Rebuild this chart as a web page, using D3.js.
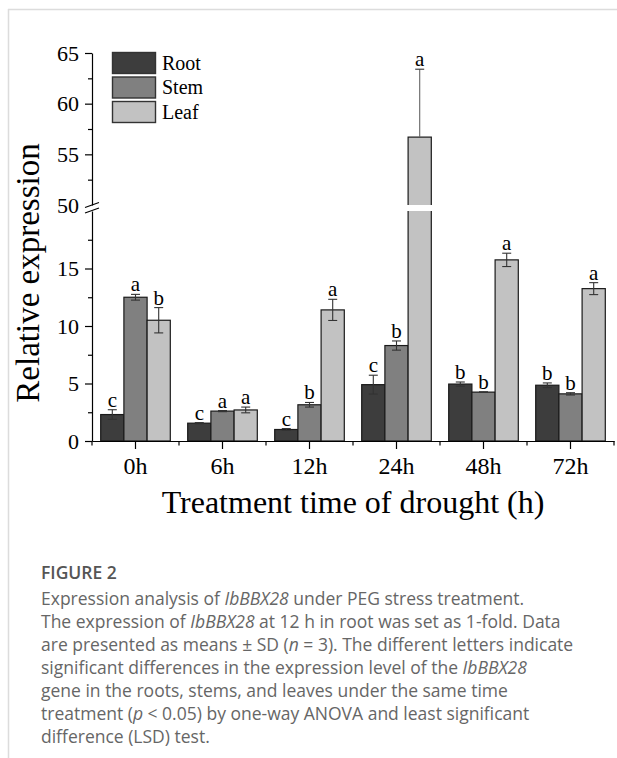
<!DOCTYPE html>
<html>
<head>
<meta charset="utf-8">
<script src="https://cdn.jsdelivr.net/npm/d3@7"></script>
<style>
  body { margin: 0; background: #fff; }
  svg { display: block; }
</style>
</head>
<body>
<div id="chart"></div>
<script>
// data
const times = ["0h", "6h", "12h", "24h", "48h", "72h"];
const series = ["Root", "Stem", "Leaf"];
const rootVals = [2.3, 1.55, 1.0, 4.9, 4.95, 4.85];
const rootSD = [0.42, 0.05, 0.08, 0.82, 0.18, 0.2];
const stemVals = [12.5, 2.6, 3.15, 8.3, 4.25, 4.1];
const stemSD = [0.25, 0.05, 0.2, 0.4, 0.03, 0.1];
const leafVals = [10.5, 2.7, 11.4, 56.7, 15.75, 13.25];
const leafSD = [1.1, 0.25, 0.92, 6.7, 0.58, 0.52];
const rootLetters = ["c", "c", "c", "c", "b", "b"];
const stemLetters = ["a", "a", "b", "b", "b", "b"];
const leafLetters = ["b", "a", "a", "a", "a", "a"];
const lowTicks = [0, 5, 10, 15];
const lowMinor = [2.5, 7.5, 12.5, 17.5];
const highTicks = [50, 55, 60, 65];
const highMinor = [52.5, 57.5, 62.5];

const colors = {Root: "#3d3d3d", Stem: "#808080", Leaf: "#c2c2c2"};
const serif = "Liberation Serif, Times New Roman, serif";

const W = 617, H = 758;
const svg = d3.select("#chart").append("svg")
  .attr("width", W).attr("height", H);

// card frame
svg.append("line").attr("x1", 8).attr("x2", W).attr("y1", 9.5).attr("y2", 9.5)
  .attr("stroke", "#dcdcdc").attr("stroke-width", 1.5);
svg.append("line").attr("x1", 8.5).attr("x2", 8.5).attr("y1", 9).attr("y2", H)
  .attr("stroke", "#dcdcdc").attr("stroke-width", 1.5);

// scales
const x = d3.scaleBand().domain(times).range([92, 614]).paddingInner(0.2).paddingOuter(0.1);
const xs = d3.scaleBand().domain(series).range([0, x.bandwidth()]);
const yLow = d3.scaleLinear().domain([0, 20]).range([441, 211]);
const yHigh = d3.scaleLinear().domain([50, 65]).range([205, 53]);

// piecewise value -> pixel
const y = v => v <= 20 ? yLow(v) : (v >= 50 ? yHigh(v) : yLow(20));

const rows = [];
times.forEach((t, i) => {
  rows.push({t, s: "Root", v: rootVals[i], sd: rootSD[i], l: rootLetters[i]});
  rows.push({t, s: "Stem", v: stemVals[i], sd: stemSD[i], l: stemLetters[i]});
  rows.push({t, s: "Leaf", v: leafVals[i], sd: leafSD[i], l: leafLetters[i]});
});

// bars
const bars = svg.append("g");
bars.selectAll("rect")
  .data(rows)
  .join("rect")
    .attr("x", d => x(d.t) + xs(d.s))
    .attr("y", d => y(d.v))
    .attr("width", xs.bandwidth())
    .attr("height", d => yLow(0) - y(d.v))
    .attr("fill", d => colors[d.s])
    .attr("stroke", "#1a1a1a")
    .attr("stroke-width", 1.2);

// white gap across bars that pass the break
bars.selectAll("rect.gap")
  .data(rows.filter(d => d.v > 20))
  .join("rect")
    .attr("class", "gap")
    .attr("x", d => x(d.t) + xs(d.s) - 2)
    .attr("y", yHigh(50))
    .attr("width", xs.bandwidth() + 4)
    .attr("height", yLow(20) - yHigh(50))
    .attr("fill", "#fff");

// error bars
const err = svg.append("g").attr("stroke", "#333").attr("stroke-width", 1.1);
rows.forEach(d => {
  const cx = x(d.t) + xs(d.s) + xs.bandwidth() / 2;
  const top = y(d.v + d.sd);
  // lower half hidden when the bar is broken
  const bot = d.v > 20 ? y(d.v) : y(d.v - d.sd);
  err.append("line").attr("x1", cx).attr("x2", cx).attr("y1", top).attr("y2", bot)
    .attr("stroke", d.v > 20 ? "#666" : null);
  err.append("line").attr("x1", cx - 4.5).attr("x2", cx + 4.5).attr("y1", top).attr("y2", top);
  if (d.v <= 20)
    err.append("line").attr("x1", cx - 4.5).attr("x2", cx + 4.5).attr("y1", bot).attr("y2", bot);
});

// significance letters
svg.append("g").selectAll("text")
  .data(rows)
  .join("text")
    .attr("x", d => x(d.t) + xs(d.s) + xs.bandwidth() / 2)
    .attr("y", d => y(d.v + d.sd) - 3)
    .attr("text-anchor", "middle")
    .attr("font-family", serif)
    .attr("font-size", 21)
    .text(d => d.l);

// y axis, lower part
const axLow = svg.append("g").attr("transform", "translate(92,0)")
  .call(d3.axisLeft(yLow).tickValues(lowTicks).tickSize(7).tickSizeOuter(0).tickPadding(6));
svg.append("g").attr("transform", "translate(92,0)")
  .call(d3.axisLeft(yLow).tickValues(lowMinor).tickSize(4).tickSizeOuter(0).tickFormat(""))
  .select(".domain").remove();

// y axis, upper part
const axHigh = svg.append("g").attr("transform", "translate(92,0)")
  .call(d3.axisLeft(yHigh).tickValues(highTicks).tickSize(7).tickSizeOuter(0).tickPadding(6));
axHigh.selectAll(".tick").filter(d => d === 50).select("line").remove();
svg.append("g").attr("transform", "translate(92,0)")
  .call(d3.axisLeft(yHigh).tickValues(highMinor).tickSize(4).tickSizeOuter(0).tickFormat(""))
  .select(".domain").remove();

// x axis
const axX = svg.append("g").attr("transform", "translate(0,441)")
  .call(d3.axisBottom(x).tickSize(8).tickSizeOuter(0).tickPadding(8));
const edges = d3.range(times.length + 1).map(i => x.range()[0] + i * x.step());
svg.append("g").attr("transform", "translate(0,441)")
  .selectAll("line").data(edges).join("line")
    .attr("x1", d => d).attr("x2", d => d).attr("y1", 0).attr("y2", 4.5)
    .attr("stroke", "#000").attr("stroke-width", 1.2);

svg.selectAll(".tick line, .domain").attr("stroke", "#000").attr("stroke-width", 1.2);
[axLow, axHigh].forEach(a => a.attr("font-family", serif).attr("font-size", 22));
axX.attr("font-family", serif).attr("font-size", 24);
svg.selectAll(".tick text").attr("fill", "#000");

// break marks on the y axis
const brk = svg.append("g").attr("stroke", "#000").attr("stroke-width", 1.2);
[0, 5.5].forEach(o => {
  brk.append("line").attr("x1", 85).attr("x2", 99)
    .attr("y1", yHigh(50) + 2.5 + o).attr("y2", yHigh(50) - 2.5 + o);
});

// legend
const leg = svg.append("g");
series.forEach((s, i) => {
  const ly = 52.5 + i * 24.5;
  leg.append("rect").attr("x", 112.5).attr("y", ly).attr("width", 43).attr("height", 21)
    .attr("fill", colors[s]).attr("stroke", "#333").attr("stroke-width", 1.4);
  leg.append("text").attr("x", 162).attr("y", ly + 17)
    .attr("font-family", serif).attr("font-size", 20).text(s);
});

// axis titles
svg.append("text")
  .attr("transform", "translate(39,273) rotate(-90)")
  .attr("text-anchor", "middle")
  .attr("font-family", serif).attr("font-size", 33)
  .text("Relative expression");

svg.append("text")
  .attr("x", 353).attr("y", 513)
  .attr("text-anchor", "middle")
  .attr("font-family", serif).attr("font-size", 32)
  .text("Treatment time of drought (h)");

// caption
const sans = "Open Sans, Noto Sans, sans-serif";
svg.append("text").attr("x", 41).attr("y", 579)
  .attr("font-family", sans).attr("font-size", 17.5).attr("font-weight", 600)
  .attr("fill", "#555").text("FIGURE 2");

const capLines = [
  [["Expression analysis of ", 0], ["IbBBX28", 1], [" under PEG stress treatment.", 0]],
  [["The expression of ", 0], ["IbBBX28", 1], [" at 12 h in root was set as 1-fold. Data", 0]],
  [["are presented as means \u00B1 SD (", 0], ["n", 1], [" = 3). The different letters indicate", 0]],
  [["significant differences in the expression level of the ", 0], ["IbBBX28", 1]],
  [["gene in the roots, stems, and leaves under the same time", 0]],
  [["treatment (", 0], ["p", 1], [" < 0.05) by one-way ANOVA and least significant", 0]],
  [["difference (LSD) test.", 0]]
];
const cap = svg.append("g").attr("font-family", sans).attr("font-size", 17.5).attr("fill", "#666");
capLines.forEach((parts, i) => {
  const t = cap.append("text").attr("x", 41).attr("y", 605 + i * 23);
  parts.forEach(p => t.append("tspan").attr("font-style", p[1] ? "italic" : null).text(p[0]));
});
</script>
</body>
</html>
